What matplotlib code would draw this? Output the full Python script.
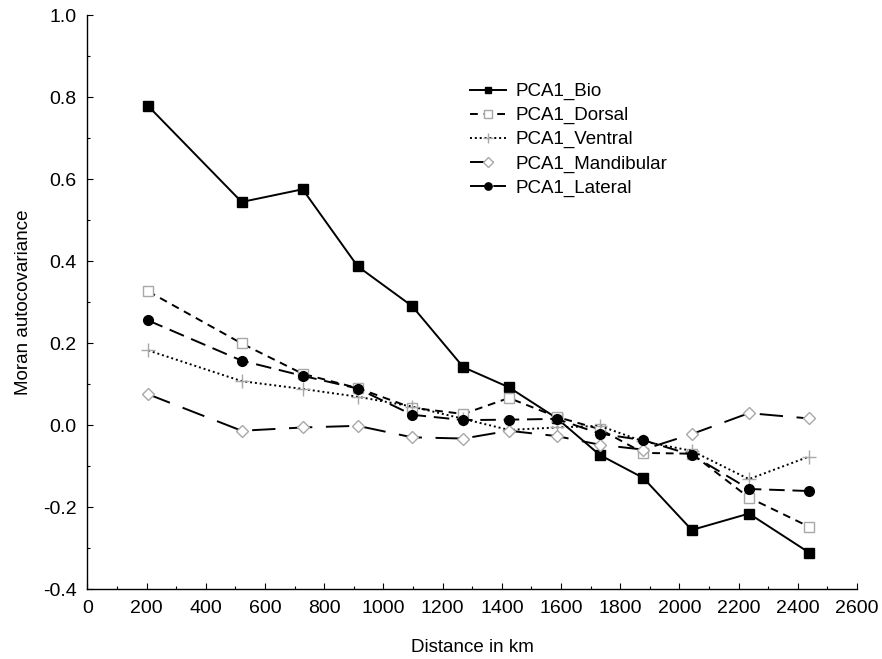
import matplotlib
matplotlib.use("Agg")
import matplotlib.pyplot as plt
from matplotlib.ticker import MultipleLocator, FormatStrFormatter

plt.rcParams['font.family'] = ['Liberation Sans', 'DejaVu Sans']

distance = [205, 521, 727, 913, 1097, 1270, 1424, 1585, 1731, 1878, 2042, 2235, 2438]
pca1_bio = [0.778, 0.544, 0.575, 0.387, 0.290, 0.141, 0.092, 0.017, -0.073, -0.129, -0.256, -0.216, -0.311]
pca1_dorsal = [0.326, 0.199, 0.125, 0.090, 0.042, 0.027, 0.066, 0.020, -0.010, -0.068, -0.070, -0.177, -0.248]
pca1_ventral = [0.182, 0.107, 0.088, 0.069, 0.045, 0.015, -0.012, -0.006, -0.002, -0.040, -0.063, -0.132, -0.077]
pca1_mandibular = [0.075, -0.014, -0.006, -0.002, -0.030, -0.033, -0.014, -0.027, -0.048, -0.060, -0.022, 0.029, 0.016]
pca1_lateral = [0.255, 0.157, 0.120, 0.089, 0.025, 0.012, 0.013, 0.015, -0.021, -0.037, -0.073, -0.156, -0.161]

fig = plt.figure(figsize=(8.82, 6.59), dpi=100)
ax = fig.add_axes([0.0992, 0.1062, 0.8724, 0.8710])

gray = '#a8a8a8'
ax.plot(distance, pca1_bio, color='black', lw=1.4, ls='-', marker='s', ms=6.5,
        mfc='black', mec='black', label='PCA1_Bio')
ax.plot(distance, pca1_dorsal, color='black', lw=1.4, ls=(0, (4, 3)), marker='s', ms=7,
        mfc='white', mec=gray, mew=1.0, label='PCA1_Dorsal')
ax.plot(distance, pca1_ventral, color='black', lw=1.4, ls=(0, (1, 1.5)), marker='+', ms=10,
        mec=gray, mew=1.0, label='PCA1_Ventral')
ax.plot(distance, pca1_mandibular, color='black', lw=1.4, ls=(0, (12, 7)), marker='D', ms=6.5,
        mfc='white', mec=gray, mew=1.0, label='PCA1_Mandibular')
ax.plot(distance, pca1_lateral, color='black', lw=1.4, ls=(0, (8, 4)), marker='o', ms=7,
        mfc='black', mec='black', label='PCA1_Lateral')

ax.set_xlim(0, 2600)
ax.set_ylim(-0.4, 1.0)
ax.xaxis.set_major_locator(MultipleLocator(200))
ax.xaxis.set_minor_locator(MultipleLocator(100))
ax.yaxis.set_major_locator(MultipleLocator(0.2))
ax.yaxis.set_minor_locator(MultipleLocator(0.1))
ax.yaxis.set_major_formatter(FormatStrFormatter('%.1f'))

for s in ['top', 'right']:
    ax.spines[s].set_visible(False)
for s in ['left', 'bottom']:
    ax.spines[s].set_linewidth(1.0)

ax.tick_params(which='major', direction='in', length=4, width=0.8, labelsize=14)
ax.tick_params(axis='y', which='major', pad=8)
ax.tick_params(axis='x', which='major', pad=8)
ax.tick_params(which='minor', direction='in', length=2.5, width=0.8)

ax.set_xlabel('Distance in km', fontsize=13.5, labelpad=16)
ax.set_ylabel('Moran autocovariance', fontsize=13.5, labelpad=8)

leg = fig.legend(*ax.get_legend_handles_labels(), loc='upper left',
                 bbox_to_anchor=(0.533, 0.874), bbox_transform=fig.transFigure,
                 frameon=False, fontsize=13.5, handlelength=1.9, handletextpad=0.5,
                 labelspacing=0.36, markerscale=0.75, borderpad=0, borderaxespad=0)

fig.savefig('out.png', dpi=100, facecolor='white')
